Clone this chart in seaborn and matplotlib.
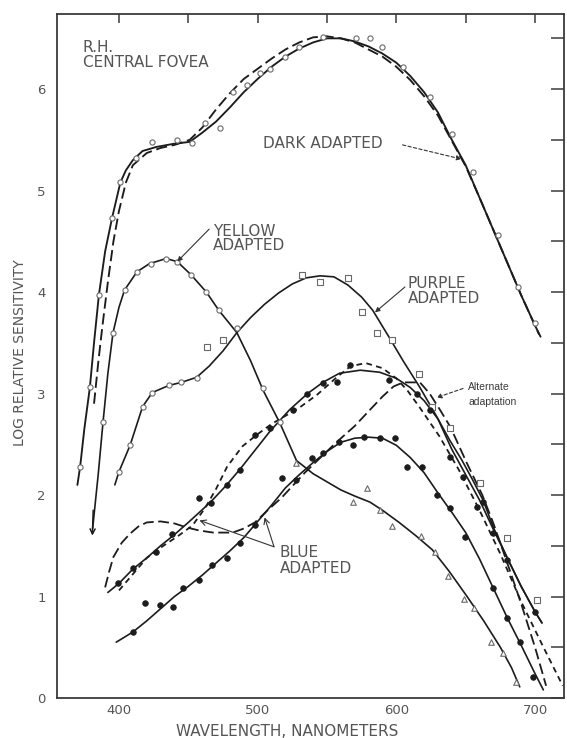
import matplotlib
matplotlib.use("Agg")
import matplotlib.pyplot as plt
import seaborn as sns
import pandas as pd
from matplotlib.ticker import FixedLocator, MultipleLocator

# ---------------- data (wavelength in nm, log relative sensitivity) ----------------
dark_solid_nm = [370, 372, 375, 379, 382, 385.5, 390, 395, 401, 405, 410, 417, 427, 439, 451, 460,
                 470, 480, 490, 500, 510, 520, 530, 540, 550, 560, 570, 580, 590, 600, 610, 620,
                 630, 640, 650, 660, 670, 680, 690, 700, 704]
dark_solid_val = [2.10, 2.28, 2.65, 3.06, 3.50, 3.97, 4.40, 4.73, 5.08, 5.20, 5.30, 5.39, 5.43, 5.46,
                  5.48, 5.57, 5.68, 5.82, 5.97, 6.10, 6.22, 6.32, 6.40, 6.46, 6.50, 6.50, 6.47, 6.42,
                  6.35, 6.26, 6.13, 5.97, 5.77, 5.50, 5.25, 4.93, 4.61, 4.29, 3.97, 3.67, 3.56]

dark_dash_nm = [382, 385, 388, 392, 396, 400, 405, 410, 420, 430, 440, 451, 460, 470, 480, 490, 500,
                510, 520, 530, 540, 550, 560, 570, 580, 590, 600, 610, 620, 630, 640, 650, 660, 670,
                680, 690, 700, 703]
dark_dash_val = [2.90, 3.30, 3.66, 4.10, 4.50, 4.80, 5.08, 5.25, 5.37, 5.42, 5.45, 5.50, 5.62, 5.80,
                 5.96, 6.10, 6.20, 6.30, 6.39, 6.46, 6.51, 6.52, 6.50, 6.46, 6.39, 6.32, 6.22, 6.09,
                 5.93, 5.74, 5.49, 5.24, 4.93, 4.61, 4.29, 3.97, 3.67, 3.58]

dark_pts_nm = [372, 379, 385.5, 395, 401, 412, 424, 442, 453, 462, 473, 482, 492, 502, 509, 520,
               530, 547, 571, 581, 590, 605, 624, 640, 655, 673, 688, 700]
dark_pts_val = [2.28, 3.06, 3.97, 4.73, 5.08, 5.32, 5.48, 5.50, 5.47, 5.67, 5.62, 5.97, 6.04, 6.16,
                6.20, 6.32, 6.41, 6.51, 6.50, 6.50, 6.41, 6.22, 5.92, 5.56, 5.18, 4.56, 4.05, 3.70]

yellow_nm = [381, 385, 388.5, 392, 395.7, 400, 404, 413, 422, 434, 442, 452, 463, 472, 485, 495, 504,
             516, 528, 540, 550, 560, 570, 581, 590, 602, 614, 626, 638, 651, 663, 675, 683, 689]
yellow_val = [1.67, 2.20, 2.72, 3.20, 3.60, 3.85, 4.02, 4.20, 4.28, 4.33, 4.30, 4.17, 4.00, 3.82,
              3.60, 3.32, 3.03, 2.71, 2.34, 2.21, 2.13, 2.05, 1.99, 1.93, 1.85, 1.73, 1.60, 1.46,
              1.25, 1.00, 0.76, 0.50, 0.30, 0.11]
yellow_pts_nm = [388.5, 395.7, 404, 413, 423, 434, 442, 452, 463, 472, 485, 504, 516]
yellow_pts_val = [2.72, 3.60, 4.02, 4.20, 4.28, 4.33, 4.30, 4.17, 4.00, 3.82, 3.65, 3.05, 2.72]
tri_pts_nm = [528, 569, 579, 588, 597, 618, 628, 637, 649, 656, 668, 677, 686]
tri_pts_val = [2.32, 1.93, 2.07, 1.85, 1.69, 1.60, 1.44, 1.20, 0.98, 0.89, 0.55, 0.44, 0.16]

purple_nm = [397, 400, 408, 417, 424, 436, 445, 456, 465, 475, 485, 495, 505, 515, 525, 535, 545,
             555, 565, 575, 583, 595, 605, 617, 628, 638.5, 647, 655, 662.5, 670, 680, 690, 700, 705]
purple_val = [2.10, 2.23, 2.49, 2.87, 3.01, 3.08, 3.11, 3.16, 3.27, 3.42, 3.60, 3.75, 3.88, 3.99,
              4.08, 4.14, 4.16, 4.15, 4.07, 3.95, 3.82, 3.55, 3.32, 3.06, 2.80, 2.54, 2.35, 2.15,
              1.95, 1.68, 1.38, 1.10, 0.85, 0.74]
purple_circ_nm = [400, 408, 417, 424, 436, 445, 456]
purple_circ_val = [2.23, 2.49, 2.87, 3.01, 3.08, 3.11, 3.15]
purple_sq_nm = [463.6, 475, 532, 545, 565, 575, 586, 597, 616, 626, 638.7, 660, 680, 701.4]
purple_sq_val = [3.46, 3.53, 4.17, 4.10, 4.14, 3.80, 3.60, 3.53, 3.19, 2.87, 2.66, 2.12, 1.58, 0.97]

upper_nm = [392, 400, 410, 420, 430, 440, 450, 458, 466, 477, 487, 498, 509, 523, 536, 547, 559,
            574, 588, 600, 610, 620, 630, 640, 650, 660, 670, 680, 690, 700, 705]
upper_val = [1.04, 1.13, 1.27, 1.38, 1.50, 1.61, 1.73, 1.83, 1.93, 2.09, 2.25, 2.44, 2.63, 2.84,
             3.00, 3.11, 3.20, 3.23, 3.21, 3.15, 3.06, 2.93, 2.75, 2.45, 2.20, 1.95, 1.66, 1.38,
             1.10, 0.85, 0.74]
upper_pts_nm = [399, 410, 427, 438, 458, 466, 478, 487, 498, 509, 525.5, 535.5, 547, 557, 566.6,
                595, 615, 624, 638.7, 648, 658, 662.5, 669.7, 680, 700]
upper_pts_val = [1.13, 1.28, 1.44, 1.62, 1.97, 1.92, 2.10, 2.25, 2.59, 2.66, 2.84, 3.00, 3.10,
                 3.11, 3.28, 3.13, 3.00, 2.84, 2.37, 2.18, 1.88, 1.93, 1.63, 1.36, 0.85]

lower_nm = [398, 410, 420, 430, 440, 450, 460, 470, 480, 490, 500, 510, 520, 530, 540, 550, 560,
            570, 580, 590, 600, 610, 620, 630, 640, 650, 660, 670, 680, 690, 700, 706]
lower_val = [0.55, 0.65, 0.76, 0.88, 1.00, 1.10, 1.21, 1.33, 1.45, 1.58, 1.74, 1.90, 2.07, 2.20,
             2.32, 2.43, 2.52, 2.56, 2.57, 2.56, 2.49, 2.37, 2.22, 2.02, 1.83, 1.63, 1.37, 1.08,
             0.79, 0.52, 0.24, 0.08]
lower_pts_nm = [410, 419, 429.6, 439, 446, 458, 467, 478, 487, 498, 517.5, 528, 539, 547, 559,
                568.7, 577, 588, 599, 607.7, 618.5, 629, 638.7, 649.6, 669.7, 679.8, 689, 698.5]
lower_pts_val = [0.65, 0.94, 0.92, 0.90, 1.08, 1.16, 1.31, 1.38, 1.53, 1.70, 2.17, 2.15, 2.36,
                 2.41, 2.52, 2.49, 2.57, 2.56, 2.56, 2.28, 2.28, 2.00, 1.87, 1.59, 1.08, 0.79,
                 0.55, 0.21]

longdash_nm = [390, 393, 396, 402, 408, 414, 420, 430, 440, 449, 458, 468, 482, 490, 498, 508, 517,
               534, 556, 570, 581, 590, 598, 605, 617, 624, 631, 639, 651, 662, 670, 680, 690, 700,
               708]
longdash_val = [1.09, 1.25, 1.39, 1.53, 1.62, 1.69, 1.73, 1.74, 1.72, 1.68, 1.65, 1.63, 1.63, 1.67,
                1.73, 1.86, 1.97, 2.22, 2.51, 2.68, 2.84, 2.97, 3.07, 3.11, 3.11, 3.00, 2.85, 2.67,
                2.31, 2.00, 1.72, 1.33, 0.93, 0.50, 0.12]

shortdash_nm = [400, 410, 420, 432, 443, 453, 462, 470, 478, 489, 500, 510, 520, 530, 543, 557,
                567, 578, 590, 600, 608, 617, 631, 645, 660, 675, 690, 705, 720]
shortdash_val = [1.06, 1.22, 1.38, 1.50, 1.60, 1.70, 1.87, 2.06, 2.28, 2.48, 2.60, 2.70, 2.78,
                 2.86, 2.99, 3.16, 3.27, 3.30, 3.25, 3.15, 3.03, 2.86, 2.58, 2.25, 1.85, 1.42,
                 0.95, 0.53, 0.12]

x_ticks = [400, 500, 600, 700]
x_tick_labels = ["400", "500", "600", "700"]
y_ticks = [0, 1, 2, 3, 4, 5, 6]
y_tick_labels = ["0", "1", "2", "3", "4", "5", "6"]

# ---------------- styling ----------------
sns.set_style("white")
plt.rcParams["font.family"] = ["DejaVu Sans"]

INK = "#1c1c1c"
GREY = "#555555"
MARK_EDGE = "#6a6a6a"

fig = plt.figure(figsize=(5.67, 7.38), dpi=100)
ax = fig.add_axes([57 / 567, 40 / 738, 507 / 567, 684 / 738])


def curve(nm, val, ls, lw=1.35):
    df = pd.DataFrame({"nm": nm, "val": val})
    sns.lineplot(data=df, x="nm", y="val", ax=ax, color=INK, linewidth=lw,
                 linestyle=ls, estimator=None, sort=False, zorder=2)


def points(nm, val, marker, filled, size):
    df = pd.DataFrame({"nm": nm, "val": val})
    if filled:
        sns.scatterplot(data=df, x="nm", y="val", ax=ax, marker=marker, s=size,
                        color=INK, edgecolor=INK, linewidth=0.6, zorder=3)
    else:
        sns.scatterplot(data=df, x="nm", y="val", ax=ax, marker=marker, s=size,
                        color="white", edgecolor=MARK_EDGE, linewidth=0.8, zorder=3)


LONG = (0, (6, 2.5))
SHORT = (0, (3.2, 2.4))

curve(dark_solid_nm, dark_solid_val, "-")
curve(dark_dash_nm, dark_dash_val, LONG)
curve(yellow_nm, yellow_val, "-", lw=1.2)
curve(purple_nm, purple_val, "-", lw=1.2)
curve(upper_nm, upper_val, "-", lw=1.2)
curve(lower_nm, lower_val, "-", lw=1.2)
curve(longdash_nm, longdash_val, LONG, lw=1.3)
curve(shortdash_nm, shortdash_val, SHORT, lw=1.3)

points(dark_pts_nm, dark_pts_val, "o", False, 14)
points(yellow_pts_nm, yellow_pts_val, "o", False, 14)
points(tri_pts_nm, tri_pts_val, "^", False, 16)
points(purple_circ_nm, purple_circ_val, "o", False, 14)
points(purple_sq_nm, purple_sq_val, "s", False, 16)
points(upper_pts_nm, upper_pts_val, "o", True, 16)
points(lower_pts_nm, lower_pts_val, "o", True, 16)

# arrowhead at the lower end of the yellow-adapted curve
ax.annotate("", xy=(380.8, 1.60), xytext=(381.4, 1.85),
            arrowprops=dict(arrowstyle="->", color=INK, lw=1.1, mutation_scale=9,
                            shrinkA=0, shrinkB=0))

# ---------------- labels ----------------
label_kw = dict(color=GREY, fontsize=11, ha="left", va="center", family="DejaVu Sans")
ax.text(374.0, 6.41, "R.H.", **label_kw)
ax.text(374.0, 6.26, "CENTRAL FOVEA", **label_kw)
ax.text(503.8, 5.46, "DARK ADAPTED", **label_kw)
ax.text(467.8, 4.60, "YELLOW", **label_kw)
ax.text(467.8, 4.46, "ADAPTED", **label_kw)
ax.text(608.4, 4.08, "PURPLE", **label_kw)
ax.text(608.4, 3.94, "ADAPTED", **label_kw)
ax.text(516.1, 1.43, "BLUE", **label_kw)
ax.text(516.1, 1.28, "ADAPTED", **label_kw)
small_kw = dict(color="#3a3a3a", fontsize=7.5, ha="left", va="center",
                family=["Liberation Sans", "DejaVu Sans"])
ax.text(651.7, 3.06, "Alternate", **small_kw)
ax.text(651.7, 2.92, "adaptation", **small_kw)

arrow_kw = dict(arrowstyle="-|>", color="#333333", lw=0.8, mutation_scale=7,
                shrinkA=0, shrinkB=0)
ax.annotate("", xy=(647.0, 5.31), xytext=(604.5, 5.45),
            arrowprops=dict(arrow_kw, linestyle=(0, (3, 2))))
ax.annotate("", xy=(442.0, 4.30), xytext=(465.0, 4.62), arrowprops=arrow_kw)
ax.annotate("", xy=(584.6, 3.80), xytext=(606.2, 4.05), arrowprops=arrow_kw)
ax.annotate("", xy=(629.0, 2.96), xytext=(648.1, 3.05),
            arrowprops=dict(arrow_kw, linestyle=(0, (3, 2))))
open_kw = dict(arrowstyle="->", color="#333333", lw=0.8, mutation_scale=10,
               shrinkA=0, shrinkB=0)
ax.annotate("", xy=(458.0, 1.75), xytext=(511.8, 1.49), arrowprops=open_kw)
ax.annotate("", xy=(505.0, 1.78), xytext=(511.8, 1.49), arrowprops=open_kw)

# ---------------- axes ----------------
ax.set_xlim(355.3, 720.9)
ax.set_ylim(0, 6.74)
ax.xaxis.set_major_locator(FixedLocator(x_ticks))
ax.set_xticklabels(x_tick_labels)
ax.xaxis.set_minor_locator(MultipleLocator(50))
ax.yaxis.set_major_locator(FixedLocator(y_ticks))
ax.set_yticklabels(y_tick_labels)
ax.yaxis.set_minor_locator(MultipleLocator(0.5))

ax.tick_params(which="both", direction="in", top=True, right=True, labeltop=False,
               labelright=False, color="#3a3a3a", width=1.1, labelcolor=GREY,
               labelsize=9.5)
ax.tick_params(axis="y", which="both", length=9.4, pad=8)
ax.tick_params(axis="x", which="both", length=6.5, pad=4)

for side in ax.spines.values():
    side.set_visible(True)
    side.set_color("#3a3a3a")
    side.set_linewidth(1.3)

ax.set_xlabel("")
ax.set_ylabel("")
fig.text(287.5 / 567, (738 - 732) / 738, "WAVELENGTH, NANOMETERS", color=GREY, fontsize=11,
         ha="center", va="center", family="DejaVu Sans")
fig.text(20 / 567, (738 - 353) / 738, "LOG RELATIVE SENSITIVITY", color=GREY, fontsize=10,
         ha="center", va="center", rotation=90,
         family=["Liberation Sans Narrow", "DejaVu Sans"])

fig.savefig("out.png", dpi=100)
